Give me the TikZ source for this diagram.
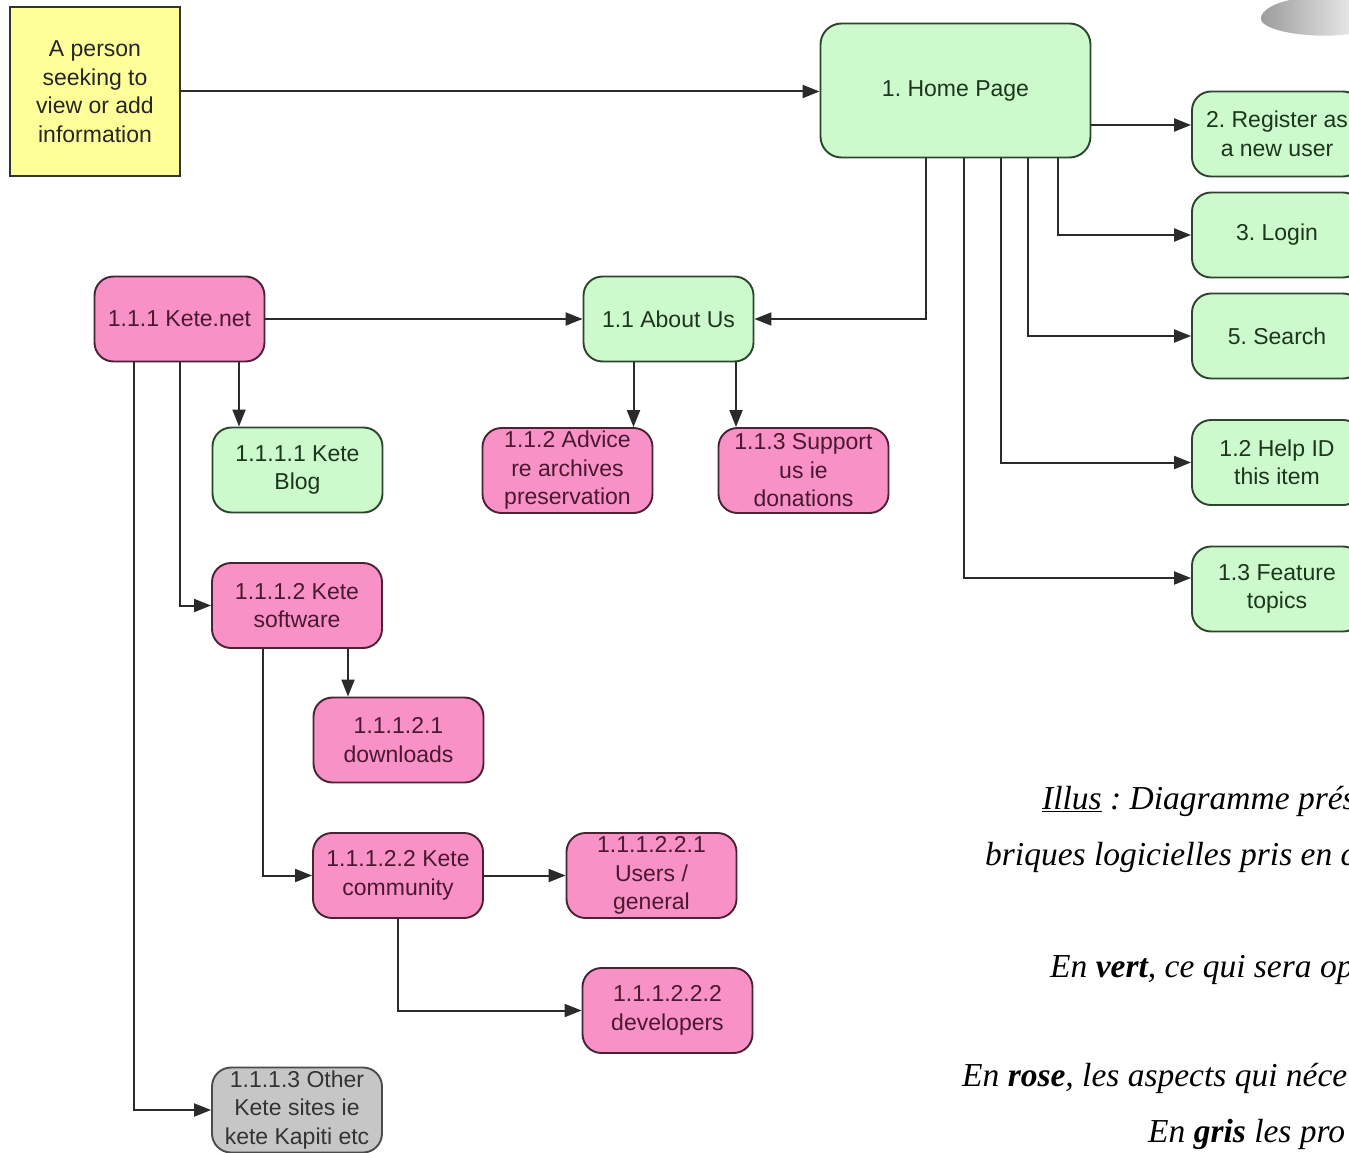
\documentclass[tikz,border=0pt]{standalone}
\usepackage{fontspec}
\setmainfont{Liberation Serif}
\newfontfamily\boxfont{Liberation Sans}
\usetikzlibrary{arrows.meta,calc}
\frenchspacing
\definecolor{gfill}{HTML}{CCFACC}
\definecolor{pfill}{HTML}{F892C6}
\definecolor{yfill}{HTML}{FFFF99}
\definecolor{gyfill}{HTML}{C6C6C6}
\definecolor{gtext}{HTML}{1C361C}
\definecolor{ptext}{HTML}{4A1830}
\definecolor{gdraw}{HTML}{2E442E}
\definecolor{pdraw}{HTML}{4A2234}
\definecolor{linec}{HTML}{2A2A2A}
\tikzset{
  box/.style={draw, line width=1.9pt, rounded corners=19pt, minimum width=170pt,
    minimum height=85pt, inner sep=0pt, align=center,
    font=\boxfont\fontsize{23}{28.5}\selectfont},
  gbox/.style={box, fill=gfill, draw=gdraw, text=gtext},
  pbox/.style={box, fill=pfill, draw=pdraw, text=ptext},
  greybox/.style={box, fill=gyfill, draw=black!70, text=black!80},
  arr/.style={draw=linec, line width=2pt, -{Triangle[length=17pt,width=13pt]}},
  captext/.style={anchor=base west, inner sep=0pt, font=\fontsize{33.5}{40}\selectfont\itshape, text=black}
}
\begin{document}
\begin{tikzpicture}[x=1pt,y=-1pt]
\useasboundingbox (0,0) rectangle (1349,1153);
\clip (0,0) rectangle (1349,1153);
\fill[white] (0,0) rectangle (1349,1153);

% grey blob top right
\shade[left color=gray!80, right color=gray!20]
  (1349,0) -- (1290,0) .. controls (1270,4) and (1257,14) .. (1262,22)
  .. controls (1274,35) and (1325,38) .. (1349,34) -- cycle;

% nodes
\node[draw=black!80, line width=1.9pt, fill=yfill, minimum width=170pt, minimum height=169pt,
  inner sep=0pt, align=center, text=black!85, font=\boxfont\fontsize{23}{28.5}\selectfont]
  (person) at (95,91.5) {A person\\seeking to\\view or add\\information};
\node[gbox, minimum width=270pt, minimum height=134pt, rounded corners=21pt] (home) at (955.5,90.5) {1. Home Page};
\node[gbox] (reg) at (1277,134) {2. Register as\\a new user};
\node[gbox] (login) at (1277,235) {3. Login};
\node[gbox] (search) at (1277,336) {5. Search};
\node[gbox] (help) at (1277,462.5) {1.2 Help ID\\this item};
\node[gbox] (feat) at (1277,589) {1.3 Feature\\topics};
\node[gbox] (about) at (668.5,319) {1.1 About Us};
\node[pbox] (kete) at (179.5,319) {1.1.1 Kete.net};
\node[gbox] (blog) at (297.5,470) {1.1.1.1 Kete\\Blog};
\node[pbox] (advice) at (567.5,470.5) {1.1.2 Advice\\re archives\\preservation};
\node[pbox] (support) at (803.5,470.5) {1.1.3 Support\\us ie\\donations};
\node[pbox] (soft) at (297,605.5) {1.1.1.2 Kete\\software};
\node[pbox] (down) at (398.5,740) {1.1.1.2.1\\downloads};
\node[pbox] (comm) at (398,875.5) {1.1.1.2.2 Kete\\community};
\node[pbox] (users) at (651.5,875.5) {1.1.1.2.2.1\\Users /\\general};
\node[pbox] (dev) at (667.5,1010.5) {1.1.1.2.2.2\\developers};
\node[greybox] (other) at (297,1110) {1.1.1.3 Other\\Kete sites ie\\kete Kapiti etc};

% connectors
\draw[arr] (person.east) -- (person.east -| home.west);
\coordinate (regin) at ($(reg.west)+(0,-9)$);
\draw[arr] (regin -| home.east) -- (regin);
\draw[arr] ([xshift=102.5pt]home.south) |- (login.west);
\draw[arr] ([xshift=72.5pt]home.south) |- (search.west);
\draw[arr] ([xshift=45.5pt]home.south) |- (help.west);
\coordinate (featin) at ($(feat.west)+(0,-11)$);
\draw[arr] ([xshift=8.5pt]home.south) |- (featin);
\draw[arr] ([xshift=-29.5pt]home.south) |- (about.east);
\draw[arr] (kete.east) -- (about.west);
\coordinate (tb) at ($(kete.south)+(59.5,0)$);
\draw[arr] (tb) -- (tb |- blog.north);
\draw[arr] (kete.south) |- (soft.west);
\draw[arr] ([xshift=-45.5pt]kete.south) |- (other.west);
\coordinate (ta) at ($(about.south)+(-35,0)$);
\draw[arr] (ta) -- (ta |- advice.north);
\coordinate (ts) at ($(about.south)+(67.5,0)$);
\draw[arr] (ts) -- (ts |- support.north);
\coordinate (td) at ($(soft.south)+(51,0)$);
\draw[arr] (td) -- (td |- down.north);
\draw[arr] ([xshift=-34pt]soft.south) |- (comm.west);
\draw[arr] (comm.east) -- (users.west);
\draw[arr] (comm.south) |- (dev.west);

% caption text (clipped at right edge)
\node[captext] (c1) at (1042,809) {\underline{Illus} : Diagramme prés};
\node[captext] (c2) at (985,865) {briques logicielles pris en c};
\node[captext] (c3) at (1050,977) {En \textbf{vert}, ce qui sera op};
\node[captext] (c4) at (962,1086) {En \textbf{rose}, les aspects qui néce};
\node[captext] (c5) at (1148,1142) {En \textbf{gris} les pro};
\end{tikzpicture}
\end{document}
